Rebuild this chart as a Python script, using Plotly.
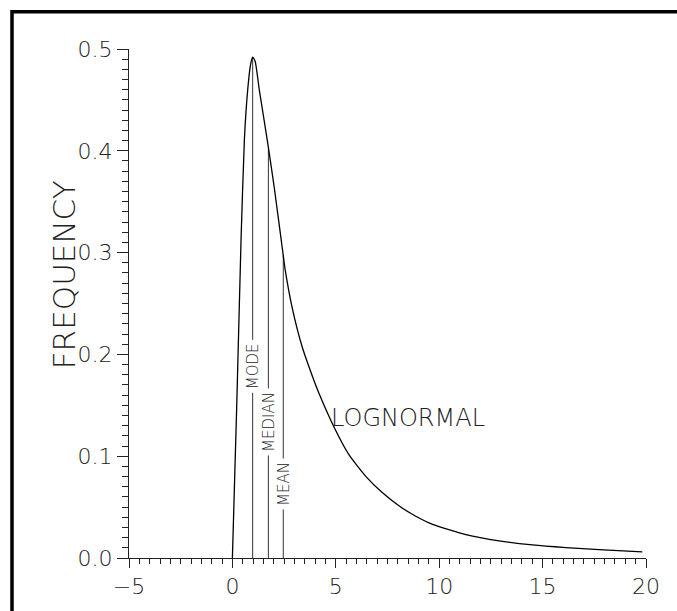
import plotly.graph_objects as go

# Lognormal density curve (x, frequency)
curve_x = [0.0, 0.21, 0.42, 0.58, 0.74, 0.88, 0.98, 1.10, 1.30, 1.55, 1.75, 2.03,
           2.35, 2.46, 2.56, 2.90, 3.38, 3.86, 4.20, 4.93, 5.65, 6.46, 7.26, 8.07,
           8.87, 9.68, 11.29, 12.90, 14.51, 16.12, 17.73, 19.82]
curve_y = [0.0, 0.150, 0.314, 0.411, 0.460, 0.485, 0.492, 0.488, 0.460, 0.428, 0.402, 0.363,
           0.314, 0.297, 0.282, 0.245, 0.207, 0.179, 0.161, 0.128, 0.101, 0.080, 0.064, 0.051,
           0.041, 0.033, 0.023, 0.0168, 0.0128, 0.0102, 0.0082, 0.006]

# Location statistics: name, position, height of marker line, label position
stat_names = ["MODE", "MEDIAN", "MEAN"]
stat_x = [0.98, 1.74, 2.46]
stat_top = [0.492, 0.402, 0.297]
stat_label_y = [0.188, 0.134, 0.073]

x_ticks = [-5, 0, 5, 10, 15, 20]
y_ticks = [0.0, 0.1, 0.2, 0.3, 0.4, 0.5]

FONT = "DejaVu Sans"
INK = "#222222"

fig = go.Figure()

for sx, st in zip(stat_x, stat_top):
    fig.add_trace(go.Scatter(x=[sx, sx], y=[0, st], mode="lines",
                             line=dict(color="#333333", width=1), hoverinfo="skip"))

fig.add_trace(go.Scatter(x=curve_x, y=curve_y, mode="lines",
                         line=dict(color="black", width=1.3, shape="spline", smoothing=0.5),
                         hoverinfo="skip"))

annotations = []
for name, sx, ly in zip(stat_names, stat_x, stat_label_y):
    annotations.append(dict(x=sx, y=ly, xref="x", yref="y", text=name, showarrow=False,
                            textangle=-90, bgcolor="white", borderpad=3,
                            font=dict(family=FONT, size=15, color=INK, weight=200)))

annotations.append(dict(x=8.5, y=0.138, xref="x", yref="y", text="LOGNORMAL", showarrow=False,
                        font=dict(family=FONT, size=24, color=INK, weight=200)))

annotations.append(dict(x=-0.164, y=0.556, xref="paper", yref="paper", text="FREQUENCY",
                        showarrow=False, textangle=-90,
                        font=dict(family=FONT, size=31, color=INK, weight=200)))

fig.update_layout(
    width=677, height=611,
    margin=dict(l=129, r=31, t=49, b=48),
    paper_bgcolor="white", plot_bgcolor="white",
    showlegend=False,
    annotations=annotations,
    shapes=[dict(type="rect", xref="paper", yref="paper",
                 x0=-0.2263, x1=2.0, y0=-1.0, y1=1.073,
                 line=dict(color="black", width=3.5), fillcolor="rgba(0,0,0,0)")],
)

fig.update_xaxes(
    range=[-5, 20], tickvals=x_ticks, ticktext=[str(v).replace("-", "\u2212") for v in x_ticks],
    showgrid=False, zeroline=False, showline=True, linecolor=INK, linewidth=1,
    ticks="outside", ticklen=9, tickcolor=INK, tickwidth=1,
    minor=dict(dtick=0.5, ticks="outside", ticklen=5, tickcolor=INK, tickwidth=1, showgrid=False),
    tickfont=dict(family=FONT, size=22, color=INK, weight=200),
)

fig.update_yaxes(
    range=[0, 0.5], tickvals=y_ticks, ticktext=[f"{v:.1f}" for v in y_ticks],
    showgrid=False, zeroline=False, showline=True, linecolor=INK, linewidth=1,
    ticks="outside", ticklen=11, tickcolor=INK, tickwidth=1,
    minor=dict(dtick=0.01, ticks="outside", ticklen=6, tickcolor=INK, tickwidth=1, showgrid=False),
    tickfont=dict(family=FONT, size=22, color=INK, weight=200),
)

fig.write_html("out.html")
